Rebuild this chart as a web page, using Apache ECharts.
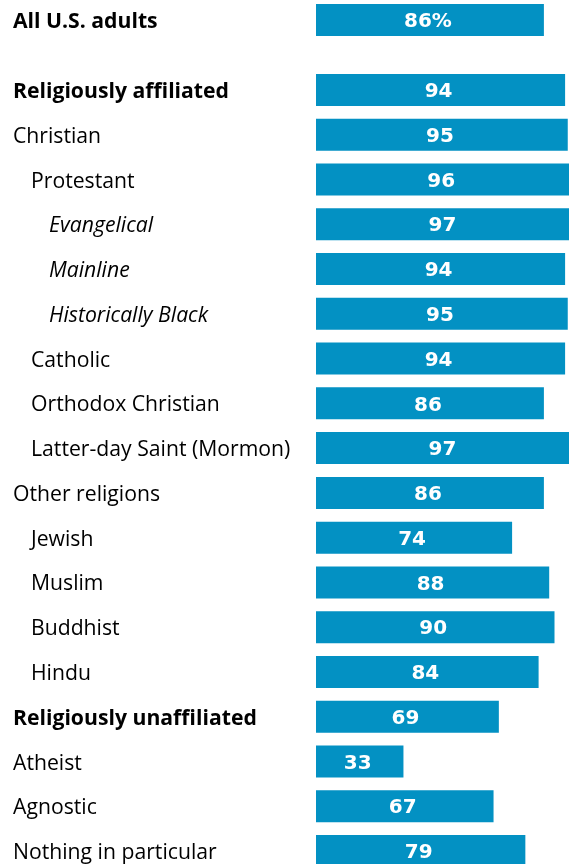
<!DOCTYPE html>
<html><head><meta charset="utf-8">
<script src="https://cdn.jsdelivr.net/npm/echarts@6/dist/echarts.min.js"></script>
<style>html,body{margin:0;padding:0;background:#fff}#c{width:569px;height:864px}</style>
</head><body><div id="c"></div>
<script>
const topCategory = ['All U.S. adults'];
const topValues = [86];
const categories = ['Religiously affiliated','Christian','Protestant','Evangelical','Mainline','Historically Black','Catholic','Orthodox Christian','Latter-day Saint (Mormon)','Other religions','Jewish','Muslim','Buddhist','Hindu','Religiously unaffiliated','Atheist','Agnostic','Nothing in particular'];
const values = [94,95,96,97,94,95,94,86,97,86,74,88,90,84,69,33,67,79];
const styleKeys = ['b','n0','n1','i2','i2','i2','n1','n1','n1','n0','n1','n1','n1','n1','b','n0','n0','n0'];

const FONT = '"Open Sans", "Liberation Sans", Arial, sans-serif';
const VFONT = '"DejaVu Sans", sans-serif';
const BAR = '#0391c3';
const FS = 21.2;
const rich = {
  b: {fontFamily: FONT, fontSize: FS, fontWeight: 'bold', color: '#000', padding: [4,0,0,0]},
  n0: {fontFamily: FONT, fontSize: FS, color: '#000', padding: [4,0,0,0]},
  n1: {fontFamily: FONT, fontSize: FS, color: '#000', padding: [4,0,0,18]},
  i2: {fontFamily: FONT, fontSize: FS, color: '#000', fontStyle: 'italic', padding: [4,0,0,36]}
};
const pitch = 761/17;
const chart = echarts.init(document.getElementById('c'));
function yAx(idx, data, keys){
  return {type:'category', gridIndex: idx, data: data, inverse: true,
    axisLine:{show:false}, axisTick:{show:false}, splitLine:{show:false},
    axisLabel:{align:'left', margin: 303, rich: rich,
      formatter: (v, i) => '{' + keys[i] + '|' + v + '}'}};
}
function xAx(idx){
  return {type:'value', gridIndex: idx, min:0, max:100, show:false};
}
const lbl = (fmt) => ({show:true, position:'inside', offset:[-2,2], color:'#fff', fontFamily: VFONT, fontSize: 20, fontWeight:'bold', formatter: fmt});
chart.setOption({
  animation:false,
  grid:[
    {left:316, width:265, top: 20 - pitch/2, height: pitch, outerBoundsMode:'none', containLabel:false},
    {left:316, width:265, top: 90 - pitch/2, height: pitch*18, outerBoundsMode:'none', containLabel:false}
  ],
  xAxis:[xAx(0), xAx(1)],
  yAxis:[yAx(0, topCategory, ['b']), yAx(1, categories, styleKeys)],
  series:[
    {type:'bar', xAxisIndex:0, yAxisIndex:0, data: topValues, barWidth:32, itemStyle:{color:BAR}, label: lbl(p => p.value + '%')},
    {type:'bar', xAxisIndex:1, yAxisIndex:1, data: values, barWidth:32, itemStyle:{color:BAR}, label: lbl(p => p.value)}
  ]
});
</script></body></html>
